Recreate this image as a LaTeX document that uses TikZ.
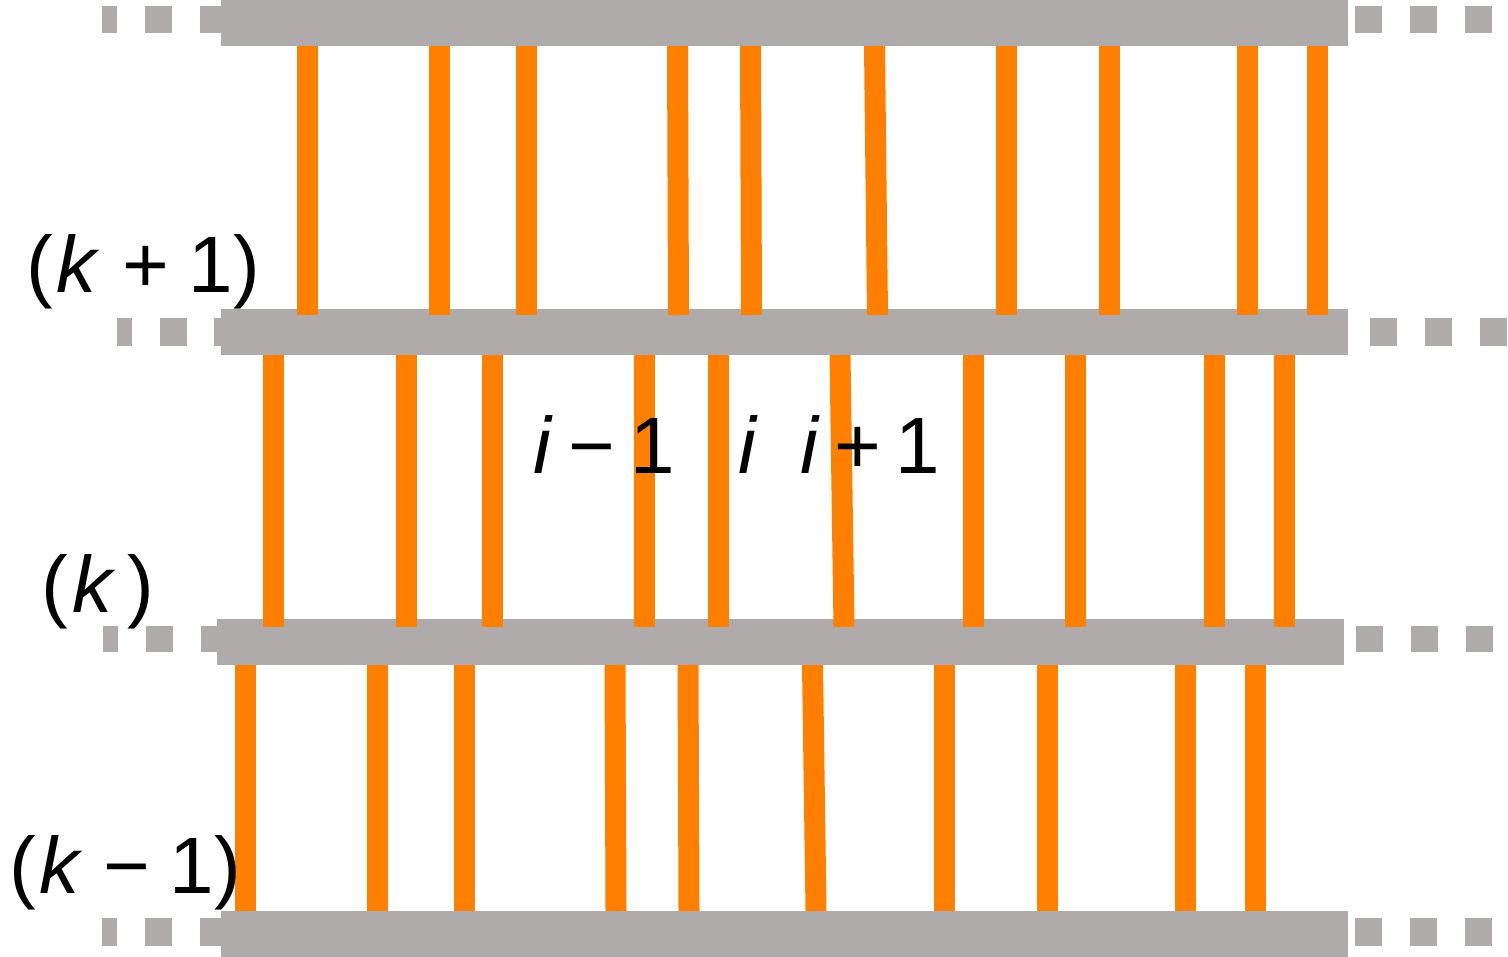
\documentclass[tikz,border=0pt]{standalone}
\usepackage{fontspec}
\setmainfont{Liberation Sans}
\definecolor{bargray}{RGB}{175,171,170}
\definecolor{rodorange}{RGB}{255,128,0}
\tikzset{
  barfill/.style={fill=bargray},
  rod/.style={draw=rodorange, line width=10.5pt},
  lab/.style={font=\fontsize{40pt}{48pt}\selectfont, inner sep=0pt, anchor=base, text=black},
}
\begin{document}
\begin{tikzpicture}[x=0.5pt,y=-0.5pt]
\useasboundingbox (0,0) rectangle (1508,957);
% bars
\fill[barfill] (221,0) rectangle (1348,46);
\fill[barfill] (221,309) rectangle (1348,355);
\fill[barfill] (217,619) rectangle (1344,665);
\fill[barfill] (221,911) rectangle (1348,957);
% dashes
\foreach \a/\b in {102/117,145/172,200/221,1355/1382,1410/1437,1465/1492}
  \fill[barfill] (\a,6) rectangle (\b,33);
\foreach \a/\b in {117/132,160/187,214/221,1370/1397,1425/1452,1480/1507}
  \fill[barfill] (\a,318) rectangle (\b,346);
\foreach \a/\b in {103/118,146/173,201/217,1356/1383,1411/1438,1466/1493}
  \fill[barfill] (\a,626) rectangle (\b,652);
\foreach \a/\b in {102/117,145/172,200/221,1355/1382,1410/1437,1465/1492}
  \fill[barfill] (\a,918) rectangle (\b,946);
% rods
\foreach \t/\u in {307/307,439/439,526/526,677.5/678.5,750.5/751.5,874.5/877.5,1006/1006,1109/1109,1247/1247,1317/1317}
  \draw[rod] (\t,46) -- (\u,315);
\foreach \t/\u in {273/273,406/406,492/492,644/644,718/718,840/844,973/973,1075/1075,1214/1214,1284.5/1284.5}
  \draw[rod] (\t,355) -- (\u,627);
\foreach \t/\u in {245.5/245.5,377/377,464/464,615/616,688/689,812.5/816,944/944,1047/1047,1185/1185,1255.5/1255.5}
  \draw[rod] (\t,665) -- (\u,911);
% labels
\node[lab] (kp) at (143,292) {(\hspace{0.05em}\textit{k}\hspace{0.28em}+\hspace{0.24em}1)};
\node[lab] (k) at (98,612) {(\hspace{0.05em}\textit{k}\hspace{0.15em})};
\node[lab] (km) at (125,893) {(\hspace{0.05em}\textit{k}\hspace{0.26em}−\hspace{0.24em}1)};
\node[lab] (im) at (604,473) {\textit{i}\hspace{0.2em}−\hspace{0.18em}1};
\node[lab] (i) at (748,473) {\textit{i}};
\node[lab] (ip) at (870,473) {\textit{i}\hspace{0.18em}+\hspace{0.18em}1};
\end{tikzpicture}
\end{document}
